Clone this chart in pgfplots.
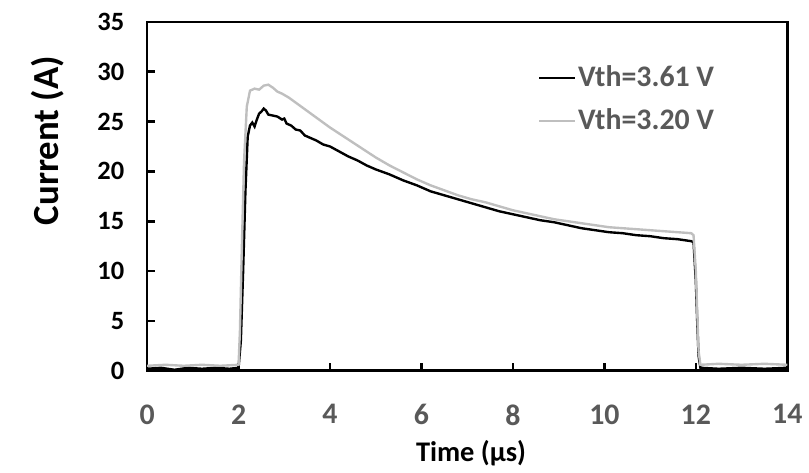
\documentclass[border=0pt]{standalone}
\usepackage{fontspec}
\setmainfont{Carlito}
\usepackage{pgfplots}
\pgfplotsset{compat=1.18}
\definecolor{txtgray}{HTML}{595959}
\definecolor{lightline}{HTML}{BFBFBF}

\pgfplotstableread{
t v
0.00 0.2
0.30 0.3
0.60 0.1
0.90 0.3
1.20 0.2
1.50 0.3
1.80 0.2
2.00 0.3
2.05 3.0
2.10 10.0
2.15 18.0
2.20 23.5
2.25 24.6
2.30 24.9
2.35 24.5
2.40 25.2
2.45 25.8
2.50 26.0
2.55 26.3
2.60 26.1
2.65 25.7
2.75 25.6
2.85 25.5
2.95 25.2
3.00 25.3
3.05 24.8
3.15 24.6
3.25 24.2
3.35 24.1
3.45 23.6
3.55 23.4
3.70 23.1
3.85 22.7
4.00 22.5
4.20 22.0
4.40 21.5
4.60 21.1
4.80 20.6
5.00 20.2
5.30 19.7
5.60 19.1
5.90 18.6
6.20 18.0
6.50 17.6
6.80 17.2
7.10 16.8
7.40 16.4
7.70 16.0
8.00 15.7
8.30 15.4
8.60 15.1
8.90 14.9
9.20 14.6
9.50 14.3
9.80 14.1
10.10 13.9
10.40 13.8
10.70 13.6
11.00 13.5
11.30 13.3
11.60 13.2
11.90 13.0
11.95 12.9
12.00 9.0
12.03 5.0
12.06 1.5
12.10 0.3
12.50 0.2
13.00 0.3
13.50 0.2
14.00 0.3
}\vthhigh

\pgfplotstableread{
t v
0.00 0.5
0.40 0.6
0.80 0.5
1.20 0.6
1.60 0.5
2.00 0.6
2.03 4.0
2.07 12.0
2.12 21.0
2.18 26.5
2.25 28.1
2.35 28.3
2.45 28.2
2.55 28.6
2.65 28.7
2.75 28.4
2.85 28.0
2.95 27.8
3.10 27.4
3.25 26.9
3.40 26.4
3.55 25.9
3.70 25.4
3.85 24.9
4.00 24.4
4.20 23.8
4.40 23.2
4.60 22.6
4.80 22.0
5.00 21.4
5.30 20.6
5.60 19.9
5.90 19.2
6.20 18.6
6.50 18.1
6.80 17.6
7.10 17.2
7.40 16.9
7.70 16.5
8.00 16.1
8.30 15.8
8.60 15.5
8.90 15.2
9.20 15.0
9.50 14.8
9.80 14.6
10.10 14.4
10.40 14.3
10.70 14.2
11.00 14.1
11.30 14.0
11.60 13.9
11.90 13.8
11.95 13.6
12.00 10.0
12.03 6.0
12.06 2.0
12.10 0.6
12.50 0.7
13.00 0.6
13.50 0.7
14.00 0.6
}\vthlow

\begin{document}
\begin{tikzpicture}
\begin{axis}[
    scale only axis, width=322pt, height=175.5pt,
    xmin=0, xmax=14, ymin=0, ymax=35,
    xtick={0,2,...,14}, ytick={0,5,...,35},
    axis line style={line width=1.3pt},
    tick style={line width=1.3pt, black},
    tick align=inside, major tick length=4pt,
    xtick pos=bottom, ytick pos=left,
    /pgf/number format/assume math mode=true,
    x tick label style={font=\fontsize{15}{17}\selectfont\bfseries, text=txtgray, yshift=-13.5pt},
    y tick label style={font=\fontsize{13.3}{15}\selectfont\bfseries, text=black, xshift=-8pt},
    xlabel={Time (µs)},
    ylabel={Current (A)},
    every axis x label/.style={at={(axis description cs:0.506,-0.236)}, anchor=center,
        font=\fontsize{14.3}{16}\selectfont\bfseries},
    every axis y label/.style={at={(axis description cs:-0.155,0.66)}, anchor=center, rotate=90,
        font=\fontsize{18.5}{21}\selectfont\bfseries},
    legend style={at={(axis description cs:0.61,0.886)}, anchor=north west,
        draw=none, fill=none, font=\fontsize{15}{17}\selectfont\bfseries, text=txtgray,
        row sep=5.5pt, inner sep=0pt},
    legend cell align=left,
    legend image code/.code={\draw[#1] (0pt,0pt) -- (18pt,0pt);},
    every axis legend/.append style={nodes={inner xsep=1pt}},
]
\addplot[black, line width=1.2pt] table[x=t, y=v] {\vthhigh};
\addplot[lightline, line width=1.2pt] table[x=t, y=v] {\vthlow};
\legend{Vth=3.61 V, Vth=3.20 V}
\end{axis}
\path (-74pt,-48.5pt) rectangle (330.5pt,186.5pt);
\end{tikzpicture}
\end{document}
